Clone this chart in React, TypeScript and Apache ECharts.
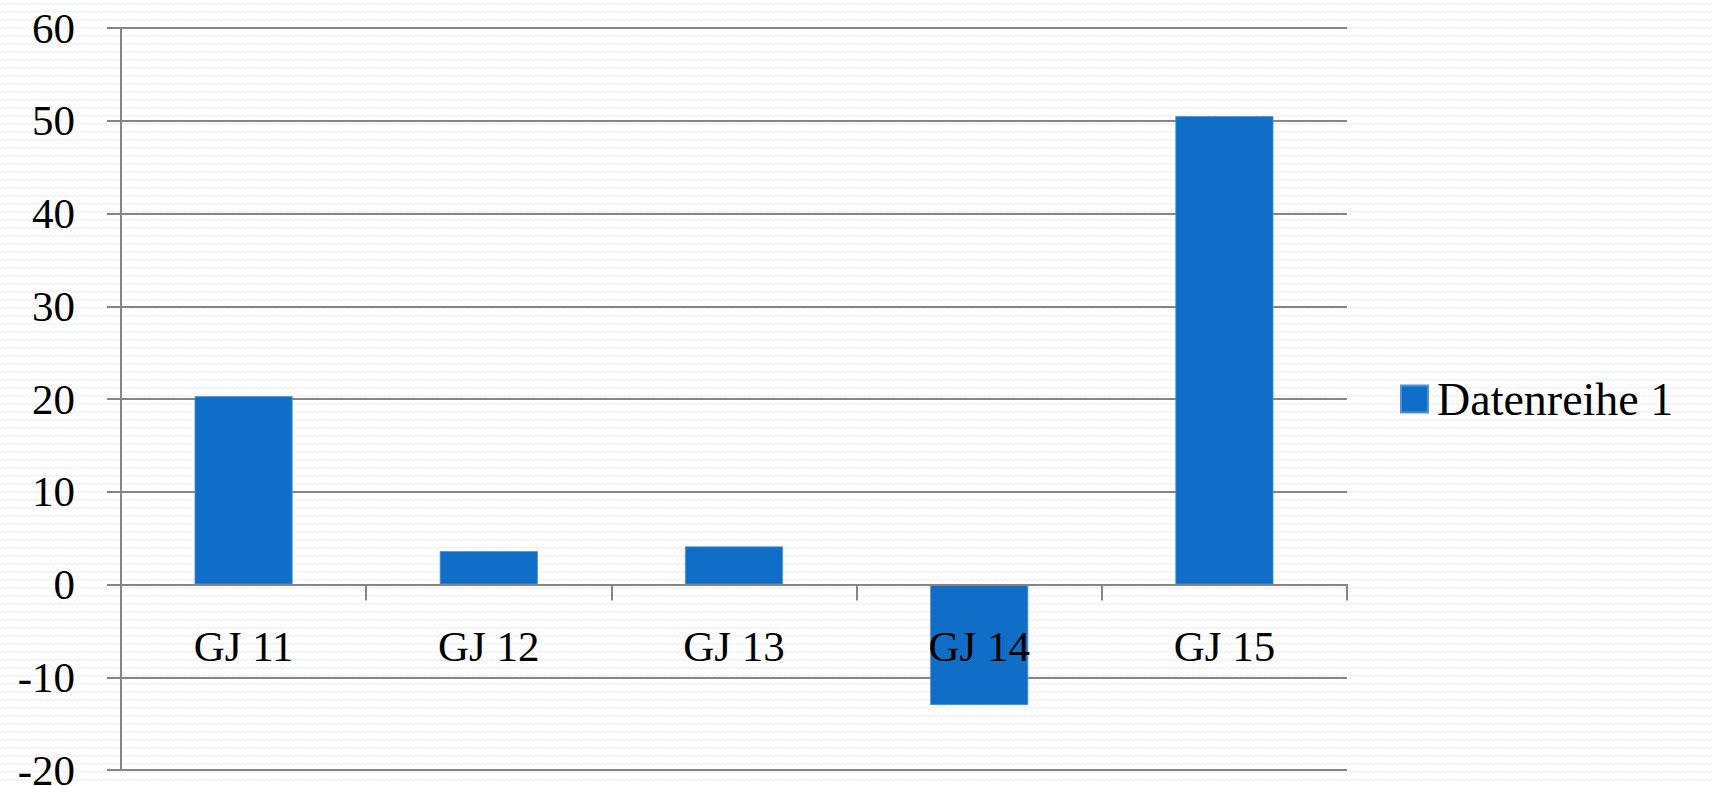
import React, { useEffect, useRef } from "react";
import * as echarts from "echarts";

const categories = ["GJ 11", "GJ 12", "GJ 13", "GJ 14", "GJ 15"];
const seriesName = "Datenreihe 1";
const values = [20.3, 3.6, 4.1, -13, 50.5];
const yMin = -20;
const yMax = 60;
const yInterval = 10;

function makeTexture(): string | null {
  try {
    const c = document.createElement("canvas");
    c.width = 12;
    c.height = 8;
    const ctx = c.getContext("2d");
    if (!ctx) return null;
    ctx.fillStyle = "#ffffff";
    ctx.fillRect(0, 0, 12, 8);
    ctx.strokeStyle = "#eeeeee";
    ctx.lineWidth = 1.2;
    ctx.beginPath();
    ctx.moveTo(0, 5);
    ctx.quadraticCurveTo(3, 1, 6, 5);
    ctx.quadraticCurveTo(9, 1, 12, 5);
    ctx.stroke();
    return c.toDataURL();
  } catch (e) {
    return null;
  }
}

export default function App() {
  const ref = useRef<HTMLDivElement>(null);
  useEffect(() => {
    if (!ref.current) return;
    const chart = echarts.init(ref.current, undefined, { renderer: "svg" });
    const tex = makeTexture();
    const font = "'Liberation Serif', 'DejaVu Serif', serif";
    const gridTop = 28;
    const gridBottom = 16;
    const plotH = 786 - gridTop - gridBottom;
    // distance from bottom of the plot to the zero line, derived from the axis range
    const zeroOffset = (-(0 - yMin) / (yMax - yMin)) * plotH;
    chart.setOption({
      animation: false,
      backgroundColor: tex ? { image: tex, repeat: "repeat" } : "#fafafa",
      grid: { left: 121, right: 366, top: gridTop, bottom: gridBottom, containLabel: false, outerBoundsMode: "none" },
      legend: {
        data: [seriesName],
        left: 1395,
        top: 371,
        itemWidth: 27,
        itemHeight: 27,
        icon: "rect",
        textStyle: { fontSize: 46, fontFamily: font, color: "#000", lineHeight: 46, padding: [0, 0, 0, 4] },
      },
      xAxis: [
        {
          type: "category",
          data: categories,
          z: 5,
          axisLine: { onZero: true, lineStyle: { color: "#858585", width: 2 } },
          axisTick: { show: true, alignWithLabel: false, length: 16, lineStyle: { color: "#858585", width: 2 } },
          axisLabel: { show: false },
          splitLine: { show: false },
        },
        {
          type: "category",
          data: categories,
          position: "bottom",
          offset: zeroOffset,
          z: 6,
          axisLine: { show: false, onZero: false },
          axisTick: { show: false },
          axisLabel: { fontSize: 43, fontFamily: font, color: "#000", margin: 40 },
          splitLine: { show: false },
        },
      ],
      yAxis: {
        type: "value",
        min: yMin,
        max: yMax,
        interval: yInterval,
        axisLine: { show: true, lineStyle: { color: "#858585", width: 2 } },
        axisTick: { show: true, length: 14, lineStyle: { color: "#858585", width: 2 } },
        axisLabel: { fontSize: 43, fontFamily: font, color: "#000", margin: 46 },
        splitLine: { show: true, lineStyle: { color: "#858585", width: 2 } },
      },
      series: [
        {
          name: seriesName,
          type: "bar",
          xAxisIndex: 0,
          data: values,
          barWidth: "40%",
          itemStyle: { color: "#106ec6", borderColor: "#4f93d6", borderWidth: 0.8 },
        },
      ],
    });
    return () => chart.dispose();
  }, []);
  return <div ref={ref} style={{ width: 1713, height: 786, position: "absolute", left: 0, top: 0 }} />;
}
